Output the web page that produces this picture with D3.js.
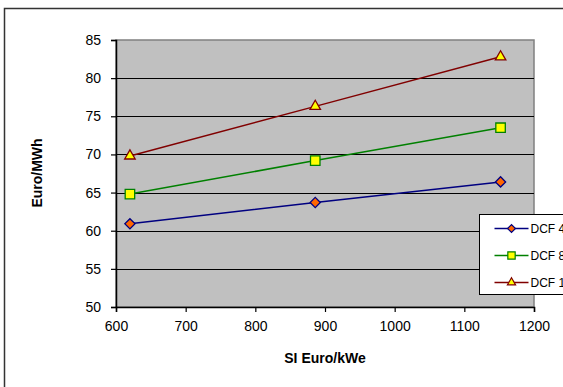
<!DOCTYPE html>
<html><head><meta charset="utf-8">
<script src="https://cdn.jsdelivr.net/npm/d3@7"></script>
<style>body{margin:0;background:#fff;overflow:hidden}svg{display:block;font-family:"Liberation Sans",Arial,sans-serif}</style>
</head><body><svg id="c" width="563" height="387"></svg>
<script>
const xValues = [620, 886, 1152];
const seriesNames = ["DCF 40%", "DCF 80%", "DCF 100%"];
const dcf40 = [60.9, 63.7, 66.4];
const dcf80 = [64.8, 69.2, 73.5];
const dcf100 = [69.8, 76.3, 82.8];
const xTicks = [600, 700, 800, 900, 1000, 1100, 1200];
const yTicks = [50, 55, 60, 65, 70, 75, 80, 85];
const xTitle = "SI Euro/kWe";
const yTitle = "Euro/MWh";

const series = [
  {name: seriesNames[0], values: dcf40, line: "#000080", fill: "#FF6600", shape: d3.symbolSquare, size: 52, rot: 45},
  {name: seriesNames[1], values: dcf80, line: "#008000", fill: "#FFFF00", shape: d3.symbolSquare, size: 90, rot: 0},
  {name: seriesNames[2], values: dcf100, line: "#800000", fill: "#FFFF00", shape: d3.symbolTriangle, size: 48, rot: 0}
];

const svg = d3.select("#c");
svg.append("rect").attr("x", 4.5).attr("y", 8.5).attr("width", 600).attr("height", 400)
  .attr("fill", "#fff").attr("stroke", "#333").attr("stroke-width", 1.5);

const L = 116, R = 534, T = 40, B = 307;
const x = d3.scaleLinear().domain([600, 1200]).range([L, R]);
const y = d3.scaleLinear().domain([50, 85]).range([B, T]);

svg.append("rect").attr("x", L).attr("y", T).attr("width", R - L).attr("height", B - T)
  .attr("fill", "#C0C0C0").attr("stroke", "#808080").attr("stroke-width", 1.5);

svg.append("g").selectAll("line").data(yTicks.filter(d => d > 50 && d < 85)).join("line")
  .attr("x1", L).attr("x2", R).attr("y1", d => Math.round(y(d)) + 0.5).attr("y2", d => Math.round(y(d)) + 0.5)
  .attr("stroke", "#000").attr("stroke-width", 1);

const yAxis = d3.axisLeft(y).tickValues(yTicks).tickSize(5).tickPadding(10).tickFormat(d3.format("d"));
const gy = svg.append("g").attr("transform", `translate(${L},0)`).call(yAxis);
const xAxis = d3.axisBottom(x).tickValues(xTicks).tickSize(5).tickPadding(9).tickFormat(d3.format("d"));
const gx = svg.append("g").attr("transform", `translate(0,${B})`).call(xAxis);
[gx, gy].forEach(g => {
  g.select(".domain").attr("stroke", "#000").attr("stroke-width", 1.5);
  g.selectAll(".tick line").attr("stroke", "#000").attr("stroke-width", 1.2);
  g.selectAll("text").attr("font-size", 14).attr("fill", "#000")
    .attr("font-family", "'Liberation Sans',Arial,sans-serif");
});

svg.append("text").attr("x", 325).attr("y", 363).attr("text-anchor", "middle")
  .attr("font-size", 14).attr("font-weight", "bold").text(xTitle);
svg.append("text").attr("transform", "translate(42,173) rotate(-90)").attr("text-anchor", "middle")
  .attr("font-size", 14).attr("font-weight", "bold").text(yTitle);

const lineGen = d3.line().x((d, i) => x(xValues[i])).y(d => y(d));
series.forEach(s => {
  svg.append("path").datum(s.values).attr("d", lineGen).attr("fill", "none")
    .attr("stroke", s.line).attr("stroke-width", 1.5);
  svg.append("g").selectAll("path").data(s.values).join("path")
    .attr("transform", (d, i) => `translate(${x(xValues[i])},${y(d)}) rotate(${s.rot})`)
    .attr("d", d3.symbol().type(s.shape).size(s.size))
    .attr("fill", s.fill).attr("stroke", s.line).attr("stroke-width", 1.3);
});

const lg = svg.append("g").attr("transform", "translate(479.5,214.5)");
lg.append("rect").attr("width", 120).attr("height", 80).attr("fill", "#fff").attr("stroke", "#000").attr("stroke-width", 1);
series.forEach((s, i) => {
  const yy = 14 + i * 27;
  lg.append("line").attr("x1", 15).attr("x2", 49).attr("y1", yy).attr("y2", yy).attr("stroke", s.line).attr("stroke-width", 1.5);
  lg.append("path").attr("transform", `translate(32,${yy}) rotate(${s.rot})`).attr("d", d3.symbol().type(s.shape).size(s.size * 0.6))
    .attr("fill", s.fill).attr("stroke", s.line).attr("stroke-width", 1.2);
  lg.append("text").attr("x", 51).attr("y", yy + 4.5).attr("font-size", 12).text(s.name);
});
</script></body></html>
